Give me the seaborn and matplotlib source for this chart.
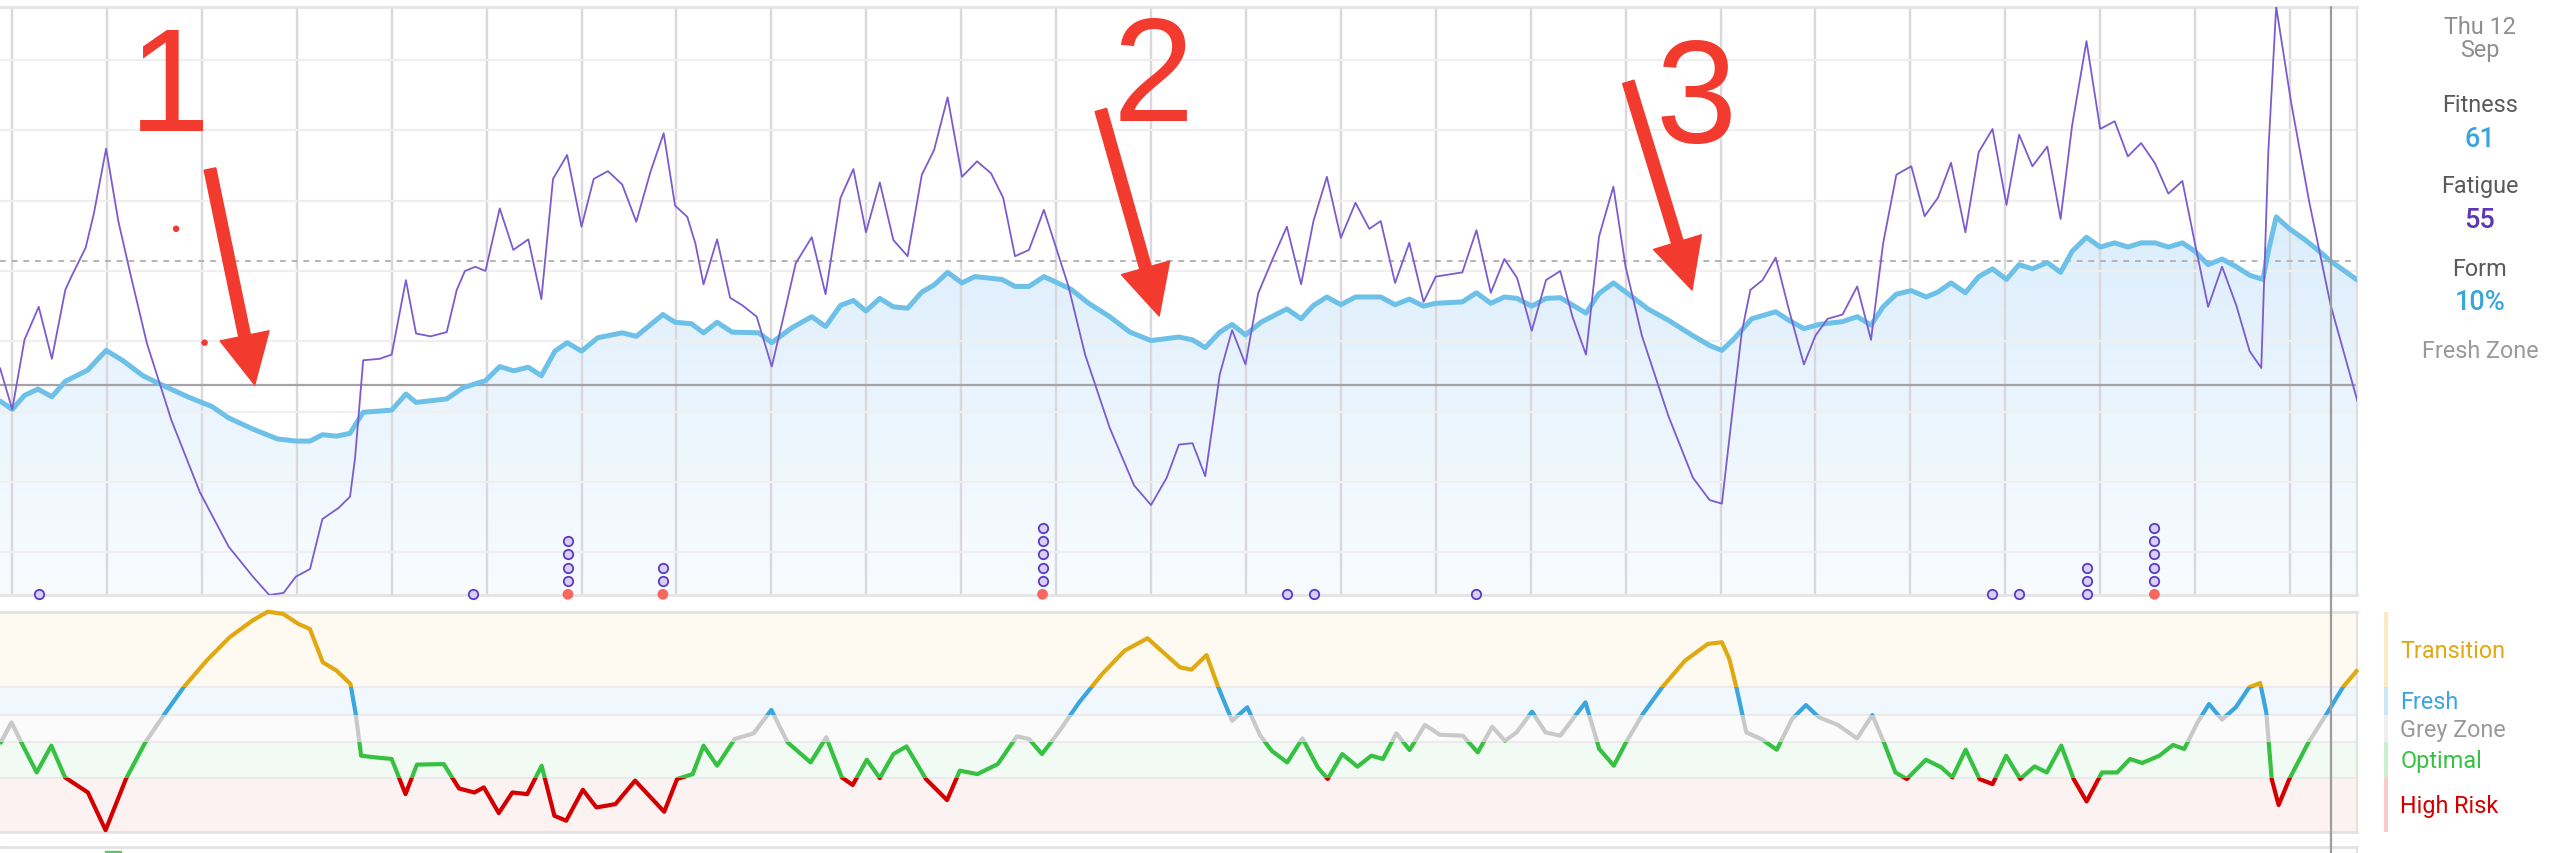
import numpy as np
import pandas as pd
import matplotlib
matplotlib.use('Agg')
import matplotlib.pyplot as plt
import matplotlib.transforms as mtransforms
from matplotlib.patches import Rectangle
from matplotlib.lines import Line2D
import seaborn as sns

# days counted from Monday 25 Mar 2024 (day 0); cursor is Thu 12 Sep (day 171)
fit_day = [-0.885, 0.02, 0.92, 1.91, 2.94, 3.93, 5.58, 6.94, 8.14, 9.65, 11.15, 12.96, 14.76, 15.97,
           17.77, 19.58, 20.93, 21.98, 22.89, 23.94, 24.93, 25.9, 28.0, 29.05, 29.8, 32.06, 33.27,
           34.92, 35.97, 37.0, 38.08, 39.04, 40.04, 40.94, 42.0, 43.2, 45.0, 46.04, 48.0, 48.9, 50.1,
           51.0, 52.0, 53.1, 55.07, 56.03, 57.5, 58.98, 60.0, 61.1, 62.05, 62.98, 64.0, 65.0, 66.05,
           67.1, 68.0, 69.0, 70.06, 71.0, 73.0, 73.97, 75.0, 76.1, 77.0, 78.1, 79.4, 80.95, 82.45,
           84.0, 86.06, 87.06, 88.0, 89.07, 89.98, 90.97, 92.1, 94.02, 95.07, 95.98, 96.97, 98.0,
           99.08, 100.94, 102.0, 103.05, 104.1, 105.0, 106.96, 108.0, 109.06, 110.06, 111.0, 112.08,
           113.13, 114.18, 116.08, 117.04, 118.1, 119.15, 120.65, 122.15, 123.96, 125.2, 126.1,
           126.97, 128.3, 130.07, 131.03, 132.15, 133.3, 135.0, 136.08, 137.1, 137.99, 138.97,
           140.07, 141.17, 142.03, 143.0, 144.06, 145.04, 146.06, 147.09, 148.02, 149.0, 150.1,
           151.08, 151.93, 152.99, 154.0, 155.07, 156.04, 157.02, 158.05, 159.03, 160.06, 160.99,
           161.96, 162.99, 164.04, 165.02, 166.0, 166.4, 166.98, 167.96, 169.06, 170.04, 171.0, 172.97]
fitness = [41.5, 40.3, 42.3, 43.2, 42.1, 44.3, 45.9, 48.7, 47.3, 45.1, 43.7, 42.1, 40.7, 39.1,
           37.5, 36.1, 35.8, 35.8, 36.7, 36.5, 36.9, 39.9, 40.2, 42.5, 41.3, 41.8, 43.4,
           44.4, 46.4, 45.8, 46.3, 45.1, 48.6, 49.8, 48.6, 50.5, 51.2, 50.7, 53.8, 52.7, 52.5,
           51.2, 52.7, 51.3, 51.2, 49.8, 51.9, 53.5, 52.1, 55.1, 55.8, 54.3, 56.1, 54.9, 54.7,
           57.0, 58.0, 59.8, 58.3, 59.2, 58.8, 57.8, 57.8, 59.2, 58.4, 57.4, 55.4, 53.5, 51.3,
           50.1, 50.6, 50.2, 49.1, 51.3, 52.4, 50.9, 52.7, 54.6, 53.2, 55.1, 56.3, 55.2,
           56.3, 56.3, 55.2, 56.0, 55.0, 55.4, 55.6, 56.9, 55.4, 56.3, 56.1, 55.0,
           56.1, 56.2, 54.0, 56.8, 58.3, 56.8, 54.6, 53.0, 50.8, 49.4, 48.7,
           50.3, 53.2, 54.2, 53.0, 51.8, 52.4, 52.8, 53.5, 52.3, 54.9, 56.7,
           57.2, 56.3, 57.0, 58.3, 56.9, 59.2, 60.3, 58.8, 60.9, 60.3, 61.2,
           59.8, 62.8, 64.8, 63.4, 64.0, 63.4, 64.0, 64.0, 63.4, 64.0, 62.8,
           60.9, 61.7, 60.6, 59.4, 58.8, 62.8, 67.7, 66.0, 64.5, 63.0, 61.4, 58.7]

fat_day = [-0.885, 0.02, 0.92, 1.97, 2.94, 3.93, 4.38, 5.43, 6.04, 6.94, 7.84, 8.74, 9.95, 11.75,
           13.86, 15.97, 17.77, 18.97, 20.03, 20.93, 21.98, 22.89, 24.09, 24.93, 25.3, 25.9, 27.1,
           28.0, 29.05, 29.8, 30.86, 32.06, 32.8, 33.4, 34.17, 34.92, 35.97, 36.97, 38.08, 39.04,
           39.9, 40.94, 42.0, 42.9, 43.95, 45.0, 46.04, 47.1, 48.06, 48.9, 49.8, 50.4, 51.0, 52.0,
           52.96, 53.87, 54.92, 56.03, 56.9, 57.8, 58.98, 60.0, 61.1, 62.05, 62.98, 64.0, 65.0,
           66.05, 67.1, 68.0, 69.0, 70.06, 71.17, 72.2, 73.1, 73.97, 75.0, 76.1, 77.0, 77.9, 79.14,
           80.95, 82.75, 84.0, 85.16, 86.06, 87.06, 88.0, 88.6, 89.07, 89.98, 90.97, 91.9, 92.97,
           94.02, 95.07, 95.98, 96.97, 98.0, 99.08, 100.1, 100.94, 102.0, 103.05, 104.1, 105.0,
           106.96, 108.0, 109.06, 110.06, 111.0, 112.08, 113.13, 114.18, 115.08, 116.08, 117.04,
           118.1, 119.0, 120.2, 122.15, 123.96, 125.2, 126.1, 126.97, 127.57, 128.2, 129.1, 130.07,
           131.03, 132.15, 133.0, 133.9, 135.0, 136.08, 137.1, 137.99, 138.97, 140.07, 141.05,
           142.03, 143.0, 144.06, 145.04, 146.06, 147.09, 148.02, 149.0, 150.1, 151.08, 151.93,
           152.99, 154.0, 155.07, 156.04, 157.02, 158.05, 159.03, 160.06, 160.99, 161.96, 162.99,
           164.04, 165.02, 165.88, 166.4, 166.98, 168.08, 169.42, 171.0, 172.97]
fatigue = [46.2, 40.3, 50.2, 54.9, 47.5, 57.3, 59.2, 63.3, 68.2, 77.4, 67.1, 59.5, 49.7, 38.8,
           28.5, 20.8, 16.5, 13.9, 14.2, 16.5, 17.6, 24.7, 26.3, 27.9, 33.4, 47.3, 47.5,
           48.1, 58.7, 51.1, 50.7, 51.3, 57.3, 60.0, 60.6, 60.0, 68.9, 63.0, 64.5, 56.0,
           73.1, 76.5, 66.3, 73.1, 74.2, 72.3, 67.0, 74.2, 79.6, 69.3, 67.7, 63.9, 58.1, 64.5,
           56.2, 55.1, 53.5, 46.4, 53.5, 61.1, 64.8, 56.7, 70.4, 74.5, 65.5, 72.6, 64.4,
           62.1, 73.7, 77.2, 84.7, 73.4, 75.6, 73.9, 70.4, 62.1, 63.0, 68.7, 63.3, 57.9, 48.1,
           37.7, 29.5, 26.7, 30.6, 35.3, 35.5, 30.8, 38.8, 45.3, 51.6, 46.7, 56.8, 61.7,
           66.3, 58.1, 67.1, 73.4, 64.7, 69.7, 66.0, 67.1, 58.3, 64.0, 55.6, 59.2,
           59.8, 65.8, 56.9, 61.7, 59.0, 51.5, 58.7, 60.0, 53.5, 48.1, 64.9,
           72.0, 60.6, 50.8, 39.4, 30.6, 27.4, 26.9, 41.5, 51.3, 57.3, 58.7, 61.9,
           54.6, 46.7, 50.8, 53.2, 53.8, 57.8, 50.2, 63.9, 73.7, 74.9, 67.8,
           70.4, 75.4, 65.5, 76.9, 80.2, 69.4, 79.4, 74.9, 77.7, 67.4, 80.7,
           92.7, 80.2, 81.3, 76.3, 78.2, 75.3, 71.0, 72.8, 63.9, 54.9, 60.6,
           55.1, 48.6, 46.2, 76.9, 97.6, 84.0, 69.8, 55.1, 41.5]

form_day = [-0.885, -0.04, 0.81, 1.82, 2.9, 3.91, 5.6, 6.9, 8.4, 9.83, 11.25, 12.66, 14.35, 16.04,
            17.73, 18.86, 19.99, 21.12, 21.97, 22.92, 23.94, 24.96, 25.35, 25.75, 26.76, 28.0,
            29.02, 29.86, 31.84, 32.97, 34.1, 34.8, 35.9, 36.9, 38.0, 39.06, 40.0, 40.87, 42.1,
            43.1, 44.5, 45.95, 48.1, 49.05, 50.2, 51.0, 52.0, 53.3, 54.7, 56.0, 57.2, 58.9, 60.05,
            61.2, 62.0, 63.04, 64.0, 65.0, 65.97, 67.4, 68.96, 69.9, 71.2, 72.7, 74.1, 75.0, 75.96,
            77.26, 78.7, 80.4, 82.05, 83.74, 84.9, 86.14, 86.99, 88.1, 88.96, 89.98, 91.1, 92.06,
            92.9, 94.04, 95.17, 96.3, 97.03, 98.1, 99.23, 100.25, 101.1, 102.1, 103.07, 104.2,
            105.3, 107.0, 108.1, 109.16, 110.1, 110.96, 112.1, 113.1, 114.18, 116.04, 117.06,
            118.13, 119.03, 120.27, 121.7, 123.38, 125.07, 126.1, 126.65, 127.2, 127.9, 129.0,
            130.15, 131.27, 132.3, 133.25, 134.66, 136.07, 137.2, 138.05, 138.9, 139.74, 141.15,
            142.28, 143.1, 144.08, 145.1, 146.06, 147.07, 148.1, 149.16, 150.06, 151.13, 152.04,
            153.0, 154.13, 155.25, 156.2, 157.1, 158.36, 159.37, 160.2, 161.18, 162.03, 162.98,
            164.0, 165.0, 165.8, 166.25, 166.65, 167.16, 167.95, 169.36, 170.77, 171.9, 173.0]
form_pct = [-11.2, 0.7, -12.1, -26.8, -12.1, -29.5, -37.8, -58.5, -30.4, -10.3, 5.3, 20.0, 34.6, 47.4,
            56.6, 61.5, 60.3, 54.8, 52.0, 33.7, 29.1, 21.8, 5.3, -17.6, -18.5, -19.4,
            -38.7, -22.5, -22.2, -35.6, -37.8, -35.0, -49.1, -37.8, -38.7, -23.1, -50.6, -53.3, -36.3,
            -46.0, -44.2, -31.3, -48.4, -30.4, -27.7, -12.1, -23.1, -8.4, -5.3, 7.5, -10.3, -21.3, -7.5,
            -29.5, -33.7, -19.8, -29.9, -16.7, -12.5, -30.4, -42.0, -25.8, -27.7, -22.2, -7.0, -8.4, -16.7,
            -3.9, 11.7, 27.3, 40.1, 46.9, 39.2, 30.9, 29.7, 37.7, 20.0, 1.6, 9.0, -6.6,
            -14.9, -21.3, -8.1, -24.0, -30.4, -16.7, -23.6, -17.6, -19.4, -5.3, -14.5, -0.7,
            -6.1, -6.6, -15.8, -1.7, -9.4, -4.8, 6.6, -4.8, -6.6, 11.7, -13.9,
            -23.1, -10.3, 5.3, 20.0, 34.6, 43.8, 44.7, 35.5, 19.0, -4.8, -8.4,
            -14.3, 2.5, 10.2, 3.5, -0.7, -8.1, 4.7, -10.3, -26.8, -30.4, -19.8,
            -24.0, -29.5, -14.3, -30.4, -33.2, -17.6, -30.4, -23.5, -26.8, -12.1, -30.4,
            -42.7, -26.8, -26.8, -19.4, -21.6, -17.6, -11.7, -13.9, 0.7, 10.8, 2.2,
            9.0, 20.0, 22.3, 6.2, -30.4, -44.7, -30.4, -10.3, 6.2, 20.0, 29.7]

# activity markers: purple circles per day, red dot at the bottom of some stacks
act_day = [2, 34, 41, 48, 76, 94, 96, 108, 146, 148, 153, 158]
act_purple = [1, 1, 4, 2, 5, 1, 1, 1, 1, 1, 3, 5]
act_red = [0, 0, 1, 1, 1, 0, 0, 0, 0, 0, 0, 1]
mark_day = [12.1, 14.2]
mark_val = [66.0, 49.8]

zone_names = ['Transition', 'Fresh', 'Grey Zone', 'Optimal', 'High Risk']
zone_lo = [20, 5, -10, -30, -100]
zone_hi = [100, 20, 5, -10, -30]
zone_line = ['#e0a912', '#3aa6dd', '#c9c9c9', '#36c142', '#d40000']
zone_bg = ['#fffaf1', '#f1f8fd', '#fbfbfb', '#f2fbf3', '#fdf2f2']
zone_bar = ['#fbeac4', '#cbe7f7', '#efefef', '#c9efcd', '#f8caca']

cursor_day = 171
side_labels = ['Fitness', 'Fatigue', 'Form']
side_values = ['61', '55', '10%']

W, H = 2556, 854
XMIN, XMAX = -0.885, 172.94
YMIN, YMAX = 13.9, 97.5
FMIN, FMAX = -59.5, 61.6
RED = '#f23a2f'

sns.set_theme(style='white')
plt.rcParams['font.family'] = ['Roboto', 'DejaVu Sans']

fit_df = pd.DataFrame({'day': fit_day, 'fitness': fitness})
fat_df = pd.DataFrame({'day': fat_day, 'fatigue': fatigue})
form_df = pd.DataFrame({'day': form_day, 'form': form_pct})

fig = plt.figure(figsize=(W / 100, H / 100), dpi=100)
fig.patch.set_facecolor('white')

# ---- fitness / fatigue panel
ax = fig.add_axes([0, 1 - 596 / H, 2357 / W, (596 - 8.4) / H])
ax.set_facecolor('white')
ax.set_axisbelow(True)
ax.set_xticks(np.arange(0, 169, 7))
ax.set_yticks(np.arange(20, 91, 10))
ax.xaxis.grid(True, color='#d8d8dd', lw=1.7)
ax.yaxis.grid(True, color='#efeff0', lw=1.6)
ax.tick_params(length=0, labelbottom=False, labelleft=False)
for s in ['top', 'bottom']:
    ax.spines[s].set_color('#e4e4e4')
    ax.spines[s].set_linewidth(2)
ax.spines['right'].set_color('#dedede')
ax.spines['right'].set_linewidth(1.6)
ax.spines['left'].set_visible(False)

fill = ax.fill_between(fit_df['day'], fit_df['fitness'], YMIN, facecolor='none', edgecolor='none')
g = np.linspace(0, 1, 256)[:, None, None]
top_c = np.array([0.80, 0.90, 0.98])
bot_c = np.array([0.975, 0.988, 1.0])
img = top_c * (1 - g) + bot_c * g
im = ax.imshow(img, extent=[XMIN, XMAX, YMIN, YMAX], origin='upper', aspect='auto', zorder=0.2)
im.set_clip_path(fill.get_paths()[0], transform=ax.transData)

ax.axhline(61.4, color='#b4b4b4', lw=1.4, ls=(0, (3, 3)), zorder=1)
ax.axhline(43.8, color='#a3a3a8', lw=1.6, zorder=1)

sns.lineplot(data=fit_df, x='day', y='fitness', ax=ax, color='#6dc0e7', linewidth=3.6,
             sort=False, estimator=None, zorder=4)
sns.lineplot(data=fat_df, x='day', y='fatigue', ax=ax, color='#7b5cd0', linewidth=1.3,
             sort=False, estimator=None, zorder=5)
for ln in ax.lines[-2:]:
    ln.set_solid_joinstyle('round')

step = 1.89
for d, n_p, r in zip(act_day, act_purple, act_red):
    base = YMIN + 0.1
    if r:
        ax.scatter([d], [base], s=60, color='#f6675f', edgecolors='none', zorder=6, clip_on=False)
    ys = [base + step * (i + r) for i in range(n_p)]
    ax.scatter([d] * n_p, ys, s=46, facecolors='#d9cff5', edgecolors='#5a3cc3',
               linewidths=1.3, zorder=6, clip_on=False)
ax.scatter(mark_day, mark_val, s=22, color='#ee3b35', edgecolors='none', zorder=6)

ax.set_xlim(XMIN, XMAX)
ax.set_ylim(YMIN, YMAX)
ax.set_xlabel('')
ax.set_ylabel('')

# red annotations
arrows = [((14.6, 74.5), (17.9, 43.8)), ((80.3, 82.9), (84.6, 53.6)), ((119.2, 86.9), (123.9, 57.3))]
for tail, tip in arrows:
    ax.annotate('', xy=tip, xytext=tail, zorder=10,
                arrowprops=dict(arrowstyle='simple,head_length=3.6,head_width=3.6,tail_width=0.85',
                                color=RED, shrinkA=0, shrinkB=0, mutation_scale=10))
for txt, d, v in [('1', 11.6, 80.1), ('2', 84.2, 81.5), ('3', 124.2, 78.4)]:
    ax.text(d, v, txt, fontsize=105, color=RED, ha='center', va='baseline',
            family=['Liberation Sans', 'DejaVu Sans'], zorder=10)

# ---- form panel
ax2 = fig.add_axes([0, 1 - 833 / H, 2357 / W, (833 - 612.5) / H])
for lo, hi, bg in zip(zone_lo, zone_hi, zone_bg):
    ax2.axhspan(lo, hi, color=bg, zorder=0, lw=0)
for b in [20, 5, -10, -30]:
    ax2.axhline(b, color='#ebebeb', lw=1.6, zorder=0.5)
for lo, hi, c in zip(zone_lo, zone_hi, zone_line):
    sns.lineplot(data=form_df, x='day', y='form', ax=ax2, color=c, linewidth=3.0,
                 sort=False, estimator=None, zorder=3)
    ln = ax2.lines[-1]
    ln.set_solid_capstyle('butt')
    ln.set_solid_joinstyle('round')
    ln.set_clip_path(Rectangle((XMIN - 5, lo), XMAX - XMIN + 10, hi - lo, transform=ax2.transData))
ax2.set_xlim(XMIN, XMAX)
ax2.set_ylim(FMIN, FMAX)
ax2.set_xticks([])
ax2.set_yticks([])
ax2.set_xlabel('')
ax2.set_ylabel('')
for s in ['top', 'bottom']:
    ax2.spines[s].set_color('#e2e2e2')
    ax2.spines[s].set_linewidth(2)
ax2.spines['right'].set_color('#e2e2e2')
ax2.spines['right'].set_linewidth(1.6)
ax2.spines['left'].set_visible(False)

# zone legend bar
axb = fig.add_axes([2384 / W, 1 - 833 / H, 4 / W, (833 - 612.5) / H])
for lo, hi, c in zip(zone_lo, zone_hi, zone_bar):
    axb.axhspan(lo, hi, color=c, lw=0)
axb.set_ylim(FMIN, FMAX)
axb.set_axis_off()
for name, c, yb in zip(zone_names, zone_line, [658.3, 709, 736.7, 768.3, 813.3]):
    col = '#9a9a9a' if name == 'Grey Zone' else c
    fig.text(2400.5 / W, 1 - yb / H, name, color=col, fontsize=16.8, ha='left', va='baseline')

# next panel edge peeking at the bottom
fig.add_artist(Line2D([0, 2357 / W], [1 - 847.5 / H] * 2, color='#e2e2e2', lw=2))
fig.add_artist(Line2D([2357 / W] * 2, [0, 1 - 847.5 / H], color='#e2e2e2', lw=1.6))
fig.add_artist(Rectangle((105 / W, 0), 16 / W, 2.5 / H, color='#5cc46a', transform=fig.transFigure))

# cursor line
tr = mtransforms.blended_transform_factory(ax.transData, fig.transFigure)
fig.add_artist(Line2D([cursor_day, cursor_day], [0, 1 - 8.4 / H], color='#9c9c9c', lw=1.6,
                      transform=tr, zorder=8))

# side read-out
cx = 2480 / W
fig.text(cx, 1 - 34 / H, 'Thu 12', color='#8e8e8e', fontsize=16.8, ha='center', va='baseline')
fig.text(cx, 1 - 57.3 / H, 'Sep', color='#8e8e8e', fontsize=16.8, ha='center', va='baseline')
val_cols = ['#3aa5dc', '#5b36b5', '#3aa5dc']
for lab, val, vc, yl, yv in zip(side_labels, side_values, val_cols,
                                 [111.7, 193.3, 276], [146.7, 228.3, 310]):
    fig.text(cx, 1 - yl / H, lab, color='#5a5a5a', fontsize=16.8, ha='center', va='baseline')
    fig.text(cx, 1 - yv / H, val, color=vc, fontsize=19.5, ha='center', va='baseline',
             fontweight='medium')
fig.text(cx, 1 - 358.3 / H, 'Fresh Zone', color='#9a9a9a', fontsize=16.8, ha='center', va='baseline')

fig.savefig('out.png', dpi=100, facecolor='white')
